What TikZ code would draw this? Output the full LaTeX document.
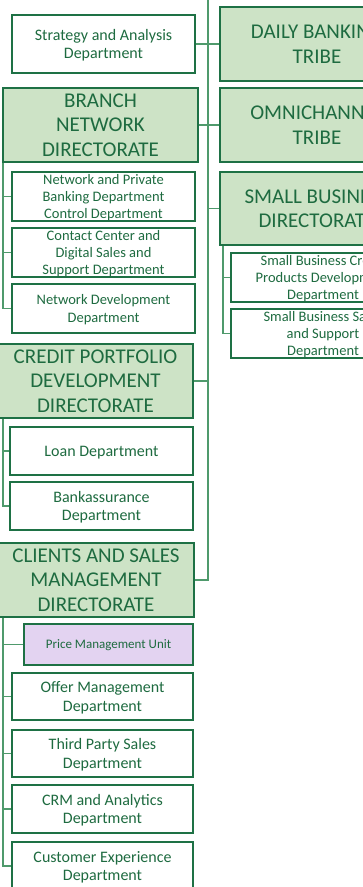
\documentclass[tikz,border=0pt]{standalone}
\usepackage{fontspec}
\setmainfont{Carlito}
\definecolor{boxline}{HTML}{1E7145}
\definecolor{boxtext}{HTML}{1E6B40}
\definecolor{linkline}{HTML}{4F9A6C}
\definecolor{dirfill}{HTML}{CDE3C6}
\definecolor{unitfill}{HTML}{E3D3F1}
\begin{document}
\begin{tikzpicture}[x=1pt,y=-1pt,
    box/.style={draw=boxline,line width=2.9pt,text=boxtext,align=center,inner sep=0pt,fill=white,text depth=0pt},
    dept/.style={box,minimum width=183pt,minimum height=49pt,font=\fontsize{16}{18.8}\selectfont},
    smalldept/.style={dept,font=\fontsize{14.5}{17.3}\selectfont},
    dir/.style={box,fill=dirfill,minimum width=195pt,minimum height=74pt,font=\fontsize{21}{24.5}\selectfont},
    unit/.style={box,fill=unitfill,minimum width=169pt,minimum height=41pt,font=\fontsize{13}{15}\selectfont},
    link/.style={draw=linkline,line width=1.2pt}]
            \useasboundingbox (0,0) rectangle (363,887);
            \clip (0,0) rectangle (363,887);
            \node[dept] (1) at (103.5,44) [minimum height=58pt] {Strategy and Analysis\\Department};
            \node[dir] (2) at (100.5,125) {BRANCH\\NETWORK\\DIRECTORATE};
            \node[smalldept] (3) at (103.5,196.5) {Network and Private\\Banking Department\\Control Department};
            \node[smalldept] (4) at (103.5,252.5) {Contact Center and\\Digital Sales and\\Support Department};
            \node[dept,font=\fontsize{14.5}{18.5}\selectfont] (5) at (103.5,308.5) {Network Development\\Department};
            \node[dir] (6) at (95.5,381) {CREDIT PORTFOLIO\\DEVELOPMENT\\DIRECTORATE};
            \node[dept,minimum height=48pt] (7) at (101.5,451) {Loan Department};
            \node[dept,minimum height=48pt] (8) at (101.5,506) {Bankassurance\\Department};
            \node[dir,minimum width=196pt] (9) at (96,580) {CLIENTS AND SALES\\MANAGEMENT\\DIRECTORATE};
            \node[unit] (10) at (108.5,644.5) {Price Management Unit};
            \node[dept,minimum width=181pt,minimum height=47pt] (11) at (102.5,696.5) {Offer Management\\Department};
            \node[dept,minimum width=181pt,minimum height=47pt] (12) at (102.5,753.5) {Third Party Sales\\Department};
            \node[dept,minimum width=181pt,minimum height=48pt] (13) at (102.5,809) {CRM and Analytics\\Department};
            \node[dept,minimum width=181pt,minimum height=48pt] (14) at (102.5,866) {Customer Experience\\Department};
            \node[dir,minimum width=194pt] (15) at (317,44) {DAILY BANKING\\TRIBE};
            \node[dir,minimum width=194pt] (16) at (317,125) {OMNICHANNEL\\TRIBE};
            \node[dir,minimum width=194pt,minimum height=73pt] (17) at (317,208.5) {SMALL BUSINESS\\DIRECTORATE};
            \node[smalldept,minimum width=184pt] (18) at (323,277.5) {Small Business Credit\\Products Development\\Department};
            \node[smalldept,minimum width=184pt] (19) at (323,333.5) {Small Business Sales\\and Support\\Department};
            \coordinate (a) at (208,-5);
            \coordinate (b) at (3,0);
            \coordinate (c) at (223,0);
            \draw[link] (a) |- (9.east);
            \draw[link] (1.east) -- (1.east -| a);
            \draw[link] (2.east) -- (2.east -| a);
            \draw[link] (6.east) -- (6.east -| a);
            \draw[link] (15.west) -- (15.west -| a);
            \draw[link] (16.west) -- (16.west -| a);
            \draw[link] (17.west) -- (17.west -| a);
            \draw[link] (2.south -| b) |- (5.west);
            \draw[link] (3.west) -- (3.west -| b);
            \draw[link] (4.west) -- (4.west -| b);
            \draw[link] (6.south -| b) |- (8.west);
            \draw[link] (7.west) -- (7.west -| b);
            \draw[link] (9.south -| b) |- (14.west);
            \draw[link] (10.west) -- (10.west -| b);
            \draw[link] (11.west) -- (11.west -| b);
            \draw[link] (12.west) -- (12.west -| b);
            \draw[link] (13.west) -- (13.west -| b);
            \draw[link] (17.south -| c) |- (19.west);
            \draw[link] (18.west) -- (18.west -| c);
        \end{tikzpicture}
\end{document}
